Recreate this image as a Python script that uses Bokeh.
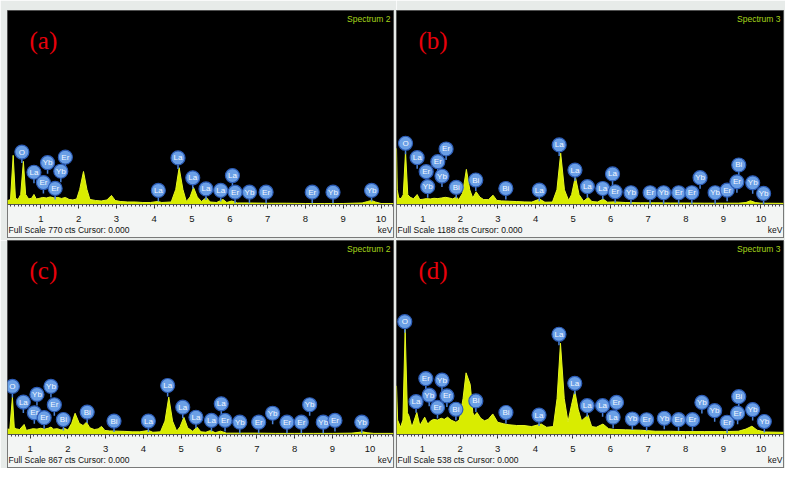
from bokeh.plotting import figure
from bokeh.models import LinearAxis, SingleIntervalTicker, BoxAnnotation, Label, ColumnDataSource, Grid
from bokeh.layouts import column, row
from bokeh.embed import file_html
from bokeh.resources import INLINE
from bokeh.core.properties import value

# ---------------- data ----------------
PANEL_LETTERS = ["(a)", "(b)", "(c)", "(d)"]
SPECTRUM_NAMES = ["Spectrum 2", "Spectrum 3", "Spectrum 2", "Spectrum 3"]
FULL_SCALE = [770, 1188, 867, 538]          # cts
X_START = [0.12, 0.30, 0.40, 0.31]          # keV
X_END = [10.33, 10.60, 10.62, 10.60]        # keV

# panel (a)
spec_a_kev = [0.12, 0.20, 0.27, 0.33, 0.40, 0.47, 0.54, 0.60, 0.68, 0.76, 0.82, 0.88, 0.95, 1.05, 1.15,
              1.25, 1.35, 1.45, 1.55, 1.65, 1.75, 1.85, 1.95, 2.03, 2.13, 2.22, 2.30, 2.45, 2.60, 2.75,
              2.87, 2.97, 3.10, 3.30, 3.50, 3.70, 3.90, 4.10, 4.20, 4.45, 4.57, 4.66, 4.76, 4.85, 4.95,
              5.04, 5.14, 5.25, 5.38, 5.48, 5.65, 5.82, 5.92, 6.05, 6.20, 6.50, 7.00, 7.50, 8.00, 8.50,
              9.00, 9.50, 9.65, 9.75, 9.85, 10.00, 10.33]
spec_a_cts = [15, 20, 195, 25, 20, 40, 171, 40, 22, 25, 40, 22, 24, 28, 26,
              30, 26, 28, 24, 28, 20, 18, 22, 60, 131, 60, 20, 16, 14, 18,
              36, 16, 12, 10, 10, 8, 8, 12, 8, 10, 60, 146, 60, 12, 30,
              68, 30, 12, 28, 10, 8, 20, 8, 14, 6, 6, 5, 5, 4, 4,
              4, 6, 12, 16, 10, 4, 4]
lab_a_el = ["O", "La", "Yb", "Er", "Yb", "Er", "Er", "La", "La", "La", "La", "La", "La", "Er", "Yb",
            "Er", "Er", "Yb", "Yb"]
lab_a_kev = [0.50, 0.82, 1.18, 1.65, 1.53, 1.07, 1.38, 4.11, 4.63, 5.02, 5.37, 5.76, 6.07, 6.14, 6.52,
             6.96, 8.18, 8.73, 9.75]
lab_a_cts = [208, 128, 166, 188, 132, 87, 64, 56, 185, 106, 62, 56, 115, 49, 49,
             49, 49, 49, 56]

# panel (b)
spec_b_kev = [0.30, 0.32, 0.36, 0.42, 0.48, 0.54, 0.60, 0.66, 0.75, 0.85, 0.92, 1.00, 1.10, 1.20, 1.30,
              1.40, 1.50, 1.60, 1.70, 1.80, 1.89, 1.96, 2.06, 2.16, 2.25, 2.33, 2.42, 2.52, 2.62, 2.75,
              2.87, 2.97, 3.10, 3.30, 3.50, 3.70, 3.90, 4.11, 4.25, 4.45, 4.57, 4.67, 4.77, 4.88, 4.96,
              5.06, 5.16, 5.28, 5.40, 5.50, 5.65, 5.80, 5.92, 6.10, 6.40, 6.80, 7.20, 7.60, 8.00, 8.50,
              9.00, 9.40, 9.60, 9.72, 9.85, 10.00, 10.60]
spec_b_cts = [344, 90, 40, 35, 60, 324, 60, 45, 35, 61, 30, 32, 36, 34, 38,
              36, 40, 44, 40, 34, 47, 30, 70, 215, 90, 40, 78, 45, 30, 30,
              57, 25, 22, 20, 18, 16, 15, 33, 14, 15, 90, 314, 90, 25, 60,
              170, 60, 20, 43, 18, 15, 33, 14, 16, 12, 10, 10, 9, 9, 8,
              8, 8, 12, 23, 12, 8, 7]
lab_b_el = ["O", "La", "Er", "Er", "Er", "Yb", "Yb", "Bi", "Bi", "Bi", "La", "La", "La", "La", "La",
            "La", "Er", "Yb", "Er", "Yb", "Er", "Er", "Yb", "Yb", "Er", "Bi", "Er", "Yb", "Yb"]
lab_b_kev = [0.54, 0.85, 1.09, 1.40, 1.62, 1.13, 1.51, 1.89, 2.41, 3.21, 4.10, 4.63, 5.05, 5.38, 5.79,
             6.05, 6.12, 6.54, 7.05, 7.41, 7.81, 8.16, 8.38, 8.78, 9.10, 9.41, 9.36, 9.78, 10.07]
lab_b_cts = [375, 287, 201, 262, 340, 109, 174, 105, 150, 98, 88, 365, 211, 109, 98,
             187, 78, 72, 72, 72, 72, 72, 164, 72, 88, 242, 139, 133, 68]

# panel (c)
spec_c_kev = [0.40, 0.46, 0.53, 0.58, 0.64, 0.72, 0.84, 0.90, 0.98, 1.08, 1.18, 1.28, 1.38, 1.48, 1.55,
              1.62, 1.72, 1.82, 1.90, 2.00, 2.10, 2.19, 2.30, 2.40, 2.49, 2.58, 2.70, 2.80, 2.89, 2.98,
              3.10, 3.30, 3.50, 3.70, 3.90, 4.13, 4.25, 4.45, 4.57, 4.67, 4.77, 4.88, 4.97, 5.07, 5.17,
              5.30, 5.42, 5.52, 5.65, 5.78, 5.90, 6.04, 6.20, 6.60, 7.00, 7.50, 8.00, 8.50, 9.00, 9.50,
              9.68, 9.80, 9.92, 10.10, 10.62]
spec_c_cts = [25, 22, 167, 30, 25, 22, 45, 18, 22, 26, 24, 28, 24, 28, 33,
              24, 26, 20, 28, 20, 50, 95, 50, 40, 55, 30, 22, 25, 36, 18,
              16, 15, 14, 12, 12, 18, 10, 12, 60, 167, 60, 15, 35, 77, 30,
              15, 33, 12, 10, 18, 8, 15, 6, 6, 6, 5, 5, 5, 5, 6,
              9, 12, 8, 5, 5]
lab_c_el = ["O", "La", "Yb", "Yb", "Er", "Er", "Er", "Bi", "Bi", "Bi", "La", "La", "La", "La", "La",
            "La", "Er", "Yb", "Er", "Yb", "Er", "Er", "Yb", "Yb", "Er", "Yb"]
lab_c_kev = [0.53, 0.82, 1.18, 1.55, 1.11, 1.37, 1.64, 1.88, 2.51, 3.22, 4.13, 4.64, 5.04, 5.39, 5.80,
             6.06, 6.16, 6.55, 7.05, 7.42, 7.80, 8.18, 8.40, 8.76, 9.07, 9.78]
lab_c_cts = [215, 145, 179, 215, 97, 75, 133, 67, 100, 60, 60, 219, 122, 77, 63,
             137, 63, 55, 55, 95, 55, 55, 133, 55, 63, 55]

# panel (d)
spec_d_kev = [0.31, 0.34, 0.42, 0.48, 0.54, 0.60, 0.64, 0.72, 0.85, 0.93, 1.06, 1.14, 1.22, 1.30, 1.40,
              1.50, 1.58, 1.67, 1.76, 1.89, 1.98, 2.08, 2.16, 2.27, 2.34, 2.38, 2.45, 2.55, 2.65, 2.75,
              2.87, 3.00, 3.15, 3.30, 3.50, 3.70, 3.90, 4.16, 4.30, 4.48, 4.58, 4.67, 4.77, 4.87, 4.96,
              5.05, 5.14, 5.23, 5.40, 5.50, 5.62, 5.80, 5.95, 6.10, 6.40, 6.80, 7.20, 7.60, 8.00, 8.50,
              9.00, 9.40, 9.60, 9.76, 9.90, 10.10, 10.60]
spec_d_cts = [135, 40, 20, 40, 292, 60, 52, 20, 61, 25, 48, 29, 38, 42, 40,
              45, 42, 48, 40, 34, 40, 100, 171, 139, 60, 52, 61, 45, 38, 42,
              57, 34, 30, 27, 25, 25, 22, 29, 20, 22, 100, 253, 100, 35, 80,
              121, 70, 38, 54, 22, 20, 29, 16, 14, 13, 12, 9, 9, 8, 8,
              8, 9, 15, 23, 12, 7, 6]
lab_d_el = ["O", "La", "Er", "Yb", "Yb", "Er", "Er", "Bi", "Bi", "Bi", "La", "La", "La", "La", "La",
            "La", "Er", "Yb", "Er", "Yb", "Er", "Er", "Yb", "Yb", "Er", "Er", "Bi", "Yb", "Yb"]
lab_d_kev = [0.53, 0.83, 1.09, 1.52, 1.18, 1.65, 1.40, 1.89, 2.42, 3.22, 4.10, 4.63, 5.05, 5.38, 5.79,
             6.07, 6.16, 6.58, 6.96, 7.43, 7.81, 8.18, 8.43, 8.77, 9.10, 9.38, 9.41, 9.78, 10.09]
lab_d_cts = [313, 91, 155, 151, 109, 107, 75, 70, 93, 61, 54, 278, 142, 80, 80,
             48, 89, 43, 41, 45, 41, 41, 89, 66, 34, 59, 105, 69, 36]

# ---------------- styling ----------------
PAGE_BG = "#e7ebe9"
AXIS_BG = "#f3f5f4"
YELLOW = "#d9ec00"
PIN_FILL = "#6a9fe6"
PIN_LINE = "#2c5cb6"
BLACK_H = 194   # px of black spectrum area
AXIS_H = 33     # px of axis strip inside the panel
SANS = "Liberation Sans"


def make_panel(i, kev, cts, lab_el, lab_kev, lab_cts, frame_w, mb):
    left, right, top, bottom = mb
    full = FULL_SCALE[i]
    cpp = full / BLACK_H
    xs, xe = X_START[i], X_END[i]
    kpp = (xe - xs) / frame_w
    frame_h = BLACK_H + AXIS_H
    p = figure(width=frame_w + left + right, height=frame_h + top + bottom,
               x_range=(xs, xe), y_range=(-AXIS_H * cpp, full),
               x_axis_location=None, y_axis_location=None,
               toolbar_location=None, tools="", title=None,
               output_backend="svg",
               min_border_left=left, min_border_right=right,
               min_border_top=top, min_border_bottom=bottom)
    p.background_fill_color = "black"
    p.border_fill_color = PAGE_BG
    p.outline_line_color = "#505050"
    p.outline_line_width = 1
    for g in p.select(type=Grid):
        g.visible = False

    p.add_layout(BoxAnnotation(top=0, fill_color=AXIS_BG, fill_alpha=1.0,
                               line_color=None, level="underlay"))

    ax = LinearAxis(ticker=SingleIntervalTicker(interval=1, num_minor_ticks=10),
                    fixed_location=0)
    ax.axis_line_color = "#555555"
    ax.major_tick_in = 0
    ax.major_tick_out = 4
    ax.minor_tick_in = 0
    ax.minor_tick_out = 2
    ax.major_tick_line_color = "#333333"
    ax.minor_tick_line_color = "#444444"
    ax.major_label_standoff = 7
    ax.major_label_text_font = SANS
    ax.major_label_text_font_size = "9.5px"
    ax.major_label_text_color = "#151515"
    p.add_layout(ax, "below")

    # spectrum
    p.varea(x=kev, y1=[0] * len(kev), y2=cts, fill_color=YELLOW, fill_alpha=1.0)
    p.line(kev, cts, line_color="#e6f620", line_width=1)

    # element pins
    src = ColumnDataSource(dict(x=lab_kev, y=lab_cts, el=lab_el,
                                y_stem=[c - 11 * cpp for c in lab_cts]))
    p.segment(x0="x", y0="y", x1="x", y1="y_stem", source=src,
              line_color="#4a82d6", line_width=1.5)
    p.scatter(x="x", y="y", source=src, size=14, fill_color=PIN_FILL,
              line_color=PIN_LINE, line_width=1.2)
    p.text(x="x", y="y", text="el", source=src, text_font=value(SANS),
           text_font_size="8px", text_align="center", text_baseline="middle",
           text_color="#f4f8ff")

    # panel letter
    p.add_layout(Label(x=xs + 22 * kpp, y=full - 30 * cpp, text=PANEL_LETTERS[i],
                       text_font="Liberation Serif", text_font_size="25px",
                       text_color="#e8000b", text_baseline="middle", text_align="left"))
    # spectrum name
    p.add_layout(Label(x=xe - 3 * kpp, y=full - 8 * cpp, text=SPECTRUM_NAMES[i],
                       text_font=SANS, text_font_size="8.5px",
                       text_color="#a6d41a", text_baseline="middle", text_align="right"))
    # footer texts
    p.add_layout(Label(x=xs + 1 * kpp, y=-25 * cpp,
                       text=f"Full Scale {FULL_SCALE[i]} cts Cursor: 0.000",
                       text_font=SANS, text_font_size="8.5px",
                       text_color="#111111", text_baseline="middle", text_align="left"))
    p.add_layout(Label(x=xe - 1 * kpp, y=-25 * cpp, text="keV",
                       text_font=SANS, text_font_size="8.5px",
                       text_color="#111111", text_baseline="middle", text_align="right"))
    return p


# (left, right, top, bottom) borders around each panel's frame
pa = make_panel(0, spec_a_kev, spec_a_cts, lab_a_el, lab_a_kev, lab_a_cts, 386, (7, 3, 10, 3))
pb = make_panel(1, spec_b_kev, spec_b_cts, lab_b_el, lab_b_kev, lab_b_cts, 387, (0, 2, 10, 3))
pc = make_panel(2, spec_c_kev, spec_c_cts, lab_c_el, lab_c_kev, lab_c_cts, 386, (7, 3, 0, 1))
pd = make_panel(3, spec_d_kev, spec_d_cts, lab_d_el, lab_d_kev, lab_d_cts, 387, (0, 2, 0, 1))

layout = column(row(pa, pb), row(pc, pd))

open("out.html", "w").write(file_html(layout, INLINE))
